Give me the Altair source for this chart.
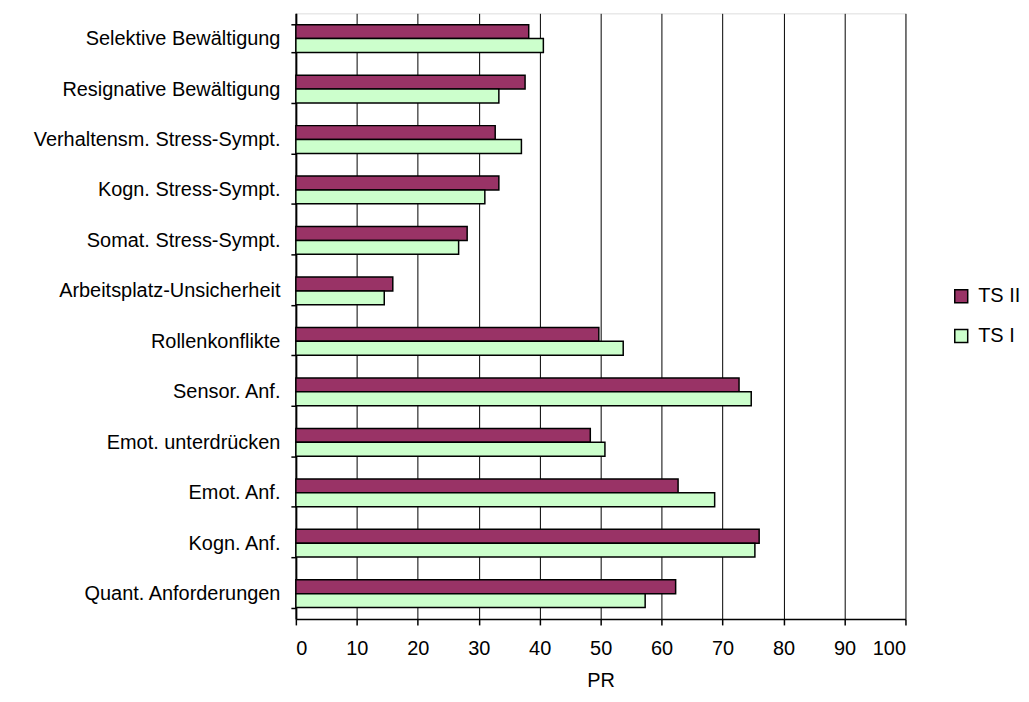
import altair as alt
import pandas as pd

categories = [
    "Selektive Bewältigung",
    "Resignative Bewältigung",
    "Verhaltensm. Stress-Sympt.",
    "Kogn. Stress-Sympt.",
    "Somat. Stress-Sympt.",
    "Arbeitsplatz-Unsicherheit",
    "Rollenkonflikte",
    "Sensor. Anf.",
    "Emot. unterdrücken",
    "Emot. Anf.",
    "Kogn. Anf.",
    "Quant. Anforderungen",
]
ts2 = [38.2, 37.6, 32.7, 33.3, 28.1, 15.9, 49.7, 72.7, 48.3, 62.7, 76.0, 62.3]
ts1 = [40.6, 33.3, 37.0, 31.0, 26.7, 14.5, 53.7, 74.7, 50.7, 68.7, 75.3, 57.3]
series = ["TS II", "TS I"]
colors = ["#993366", "#CCFFCC"]

rows = []
for c, a, b in zip(categories, ts2, ts1):
    rows.append({"cat": c, "series": "TS II", "value": a})
    rows.append({"cat": c, "series": "TS I", "value": b})
df = pd.DataFrame(rows)

FONT = "Liberation Sans"

chart = (
    alt.Chart(df)
    .mark_bar(stroke="black", strokeWidth=1.5)
    .encode(
        x=alt.X(
            "value:Q",
            scale=alt.Scale(domain=[0, 100], nice=False, zero=True),
            axis=alt.Axis(
                values=list(range(0, 101, 10)),
                title="PR",
                grid=True,
                gridColor="black",
                gridWidth=1,
                gridOpacity=1,
                domainColor="black",
                domainWidth=1.5,
                tickColor="black",
                tickSize=6,
                tickWidth=1.5,
                labelPadding=14,
                labelFontSize=20,
                labelFont=FONT,
                labelColor="black",
                titleFont=FONT,
                titleFontSize=20,
                titleFontWeight="normal",
                titleColor="black",
                titlePadding=12,
            ),
        ),
        y=alt.Y(
            "cat:N",
            sort=categories,
            scale=alt.Scale(paddingInner=0.45, paddingOuter=0.225),
            axis=alt.Axis(
                title=None,
                tickBand="extent",
                grid=False,
                domainColor="black",
                domainWidth=2,
                tickColor="black",
                tickSize=5,
                tickWidth=1.5,
                labelPadding=11,
                labelFontSize=20,
                labelFont=FONT,
                labelColor="black",
                labelLimit=400,
            ),
        ),
        yOffset=alt.YOffset("series:N", sort=series, scale=alt.Scale(paddingInner=0, domain=series)),
        color=alt.Color(
            "series:N",
            scale=alt.Scale(domain=series, range=colors),
            legend=alt.Legend(
                title=None,
                orient="none",
                legendX=658,
                legendY=274,
                symbolType="square",
                symbolSize=169,
                symbolStrokeColor="black",
                symbolStrokeWidth=1.5,
                labelFont=FONT,
                labelFontSize=20,
                labelColor="black",
                rowPadding=20,
                labelOffset=7,
            ),
        ),
    )
    .properties(
        width=612,
        height=608,
        autosize=alt.AutoSizeParams(type="none"),
        padding={"left": 289, "top": 4, "right": 116, "bottom": 74},
    )
    .configure_view(stroke="#808080", strokeWidth=1.5)
    .configure(background="white")
)

chart.save("out.html", embed_options={"renderer": "svg", "actions": False})
